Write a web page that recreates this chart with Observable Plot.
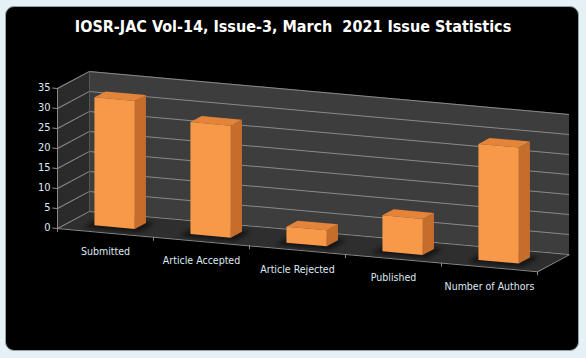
<!DOCTYPE html>
<html><head><meta charset="utf-8">
<script src="https://cdn.jsdelivr.net/npm/d3@7"></script>
<script src="https://cdn.jsdelivr.net/npm/@observablehq/plot@0.6"></script>
<style>
html,body{margin:0;padding:0;background:#e4eff4;}
#wrap{position:relative;width:586px;height:358px;overflow:hidden;background:#e6f1f5;}
#panel{position:absolute;left:5px;top:6px;width:572px;height:343px;background:#000;border:1px solid #8fa3ad;border-radius:9px;}
#title{position:absolute;left:0;top:16px;width:586px;text-align:center;color:#fff;font-weight:bold;font-size:16px;font-family:"Liberation Sans Narrow","DejaVu Sans Condensed","Liberation Sans",sans-serif;white-space:pre;line-height:22px;}
#chart{position:absolute;left:0;top:44px;}
</style></head>
<body>
<div id="wrap">
  <div id="panel"></div>
  <div id="title">IOSR-JAC Vol-14, Issue-3, March  2021 Issue Statistics</div>
  <div id="chart"></div>
</div>
<script>
// ---- data ----
const categories = ["Submitted", "Article Accepted", "Article Rejected", "Published", "Number of Authors"];
const counts = [32, 28, 4, 9, 29];
const yTicks = [0, 5, 10, 15, 20, 25, 30, 35];

// ---- 3D geometry (oblique projection in data units) ----
const N = categories.length;
const YMAX = 35;
const DX = 1 / 3, DY = 5;        // front -> back depth offset
const Z0 = 0.3, Z1 = 0.65;       // bar depth (front/back)
const BW = 0.42;                 // bar width (category units)
const SKEW = 0.09, PIVOT = 57;   // slant of the whole scene

const bars = categories.map((c, i) => ({c, i, v: counts[i], xl: i + 0.5 - BW / 2, xr: i + 0.5 + BW / 2}));
const frontFaces = bars;
const sideFaces = bars.flatMap(b => [
  {c: b.c, x: b.xr + Z0 * DX, y1: Z0 * DY, y2: b.v + Z0 * DY},
  {c: b.c, x: b.xr + Z1 * DX, y1: Z1 * DY, y2: b.v + Z1 * DY}
]);
const topFaces = bars.flatMap(b => [
  {c: b.c, y: b.v + Z0 * DY, x1: b.xl + Z0 * DX, x2: b.xr + Z0 * DX},
  {c: b.c, y: b.v + Z1 * DY, x1: b.xl + Z1 * DX, x2: b.xr + Z1 * DX}
]);
const shadows = bars.flatMap(b => [
  {c: b.c, y: Z0 * DY - 0.8, x1: b.xl + Z0 * DX - 0.12, x2: b.xr + Z0 * DX + 0.04},
  {c: b.c, y: Z1 * DY + 0.3, x1: b.xl + Z1 * DX - 0.06, x2: b.xr + Z1 * DX + 0.1}
]);
const sideWall = [{x: 0, y1: 0, y2: YMAX}, {x: DX, y1: DY, y2: YMAX + DY}];
const floor = [{y: 0, x1: 0, x2: N}, {y: DY, x1: DX, x2: N + DX}];

const gridColor = "#8a8a8a";
const txt = "#dfe9f3";

const svg = Plot.plot({
  width: 586,
  height: 314,
  x: {type: "linear", domain: [0, N + DX], range: [57, 569], axis: null},
  y: {type: "linear", domain: [0, YMAX + DY], range: [184, 24], axis: null},
  style: {background: "transparent", fontFamily: "'Liberation Sans Narrow','DejaVu Sans Condensed',sans-serif", fontSize: "10.5px", color: txt},
  marks: [
    // walls
    Plot.areaY(sideWall, {x: "x", y1: "y1", y2: "y2", fill: "#2b2b2b"}),
    Plot.rect([0], {x1: () => DX, x2: () => N + DX, y1: () => DY, y2: () => YMAX + DY, fill: "#3d3d3d"}),
    Plot.areaX(floor, {y: "y", x1: "x1", x2: "x2", fill: "#2e2e2e"}),
    // gridlines on back and side walls
    Plot.ruleY(yTicks, {y: d => d + DY, x1: () => DX, x2: () => N + DX, stroke: gridColor, strokeWidth: 1}),
    Plot.link(yTicks, {x1: () => 0, y1: d => d, x2: () => DX, y2: d => d + DY, stroke: gridColor, strokeWidth: 1}),
    Plot.link([0], {x1: () => DX, y1: () => DY, x2: () => DX, y2: () => YMAX + DY, stroke: "#555", strokeWidth: 1}),
    // axes
    Plot.ruleX([0], {y1: 0, y2: YMAX, stroke: gridColor}),
    Plot.ruleY(yTicks, {x1: () => -0.05, x2: () => 0, stroke: gridColor}),
    Plot.ruleY([0], {x1: () => 0, x2: () => N, stroke: gridColor}),
    Plot.link([0], {x1: () => N, y1: () => 0, x2: () => N + DX, y2: () => DY, stroke: gridColor}),
    Plot.ruleX(d3.range(N + 1), {y1: () => -1, y2: () => 0, stroke: gridColor}),
    // bar shadows
    Plot.areaX(shadows, {y: "y", x1: "x1", x2: "x2", z: "c", fill: "#000", fillOpacity: 0.55, imageFilter: "blur(2px)"}),
    // bars
    Plot.areaY(sideFaces, {x: "x", y1: "y1", y2: "y2", z: "c", fill: "#c56d2b"}),
    Plot.areaX(topFaces, {y: "y", x1: "x1", x2: "x2", z: "c", fill: "#e4843a"}),
    Plot.rect(frontFaces, {x1: d => d.xl + Z0 * DX, x2: d => d.xr + Z0 * DX, y1: () => Z0 * DY, y2: d => d.v + Z0 * DY, fill: "#f8994a"}),
    // labels
    Plot.text(yTicks, {x: () => 0, y: d => d, text: d => String(d), dx: -7, textAnchor: "end", fill: txt, fontSize: 11}),
    Plot.text(categories, {x: (d, i) => i + 0.5, y: () => -4.8, text: d => d, fill: txt})
  ]
});
document.getElementById("chart").appendChild(svg);

// slant the scene (text stays upright, only moved along the slant)
const ns = "http://www.w3.org/2000/svg";
const groups = Array.from(svg.children).filter(el => el.tagName.toLowerCase() === "g");
const textGroups = groups.filter(el => el.getAttribute("aria-label") === "text");
const scene = document.createElementNS(ns, "g");
scene.setAttribute("transform", `matrix(1,${SKEW},0,1,0,${-SKEW * PIVOT})`);
svg.insertBefore(scene, textGroups[0] || null);
groups.filter(el => !textGroups.includes(el)).forEach(el => scene.appendChild(el));
const svgRect = svg.getBoundingClientRect();
textGroups.forEach(tg => tg.querySelectorAll("text").forEach(t => {
  const r = t.getBoundingClientRect();
  const cx = (r.left + r.right) / 2 - svgRect.left;
  const w = document.createElementNS(ns, "g");
  w.setAttribute("transform", `translate(0,${SKEW * (cx - PIVOT)})`);
  t.parentNode.insertBefore(w, t);
  w.appendChild(t);
}));
</script>
</body></html>
